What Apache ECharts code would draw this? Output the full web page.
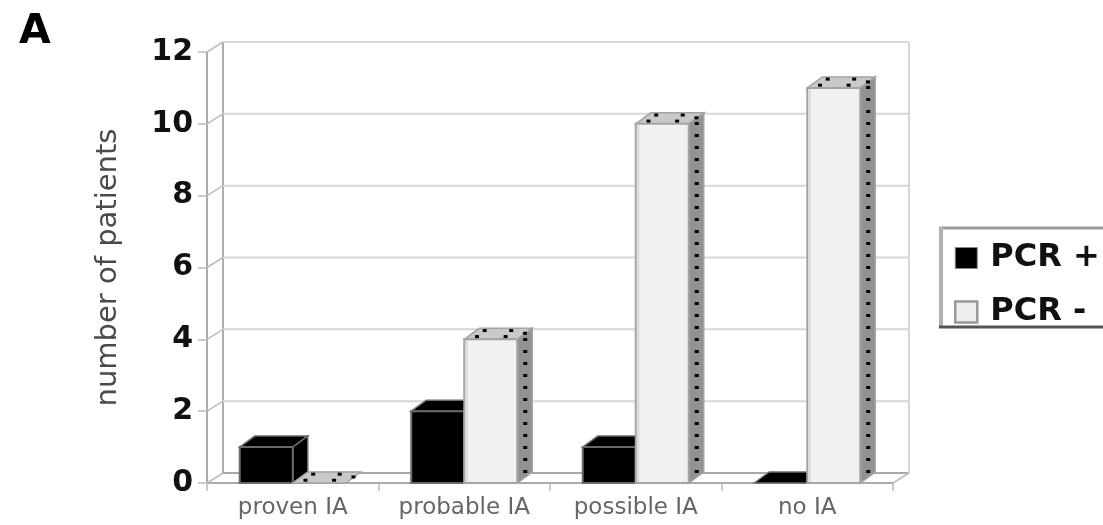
<!DOCTYPE html>
<html>
<head>
<meta charset="utf-8">
<script src="https://cdn.jsdelivr.net/npm/echarts@6/dist/echarts.min.js"></script>
<style>html,body{margin:0;padding:0;background:#fff;}#c{width:1103px;height:525px;}</style>
</head>
<body>
<div id="c"></div>
<script>
const categories = ['proven IA', 'probable IA', 'possible IA', 'no IA'];
const pcrPositive = [1, 2, 1, 0];
const pcrNegative = [0, 4, 10, 11];
const yTicks = [0, 2, 4, 6, 8, 10, 12];
const seriesNames = ['PCR +', 'PCR -'];
const panelLabel = 'A';
const yTitle = 'number of patients';

const DX = 16, DY = -10;      // wall depth
const BDX = 15, BDY = -11;    // bar depth
const BAR_FRAC = 53 / 171.5;  // bar width as fraction of category band

function frameItem(params, api) {
  const cs = params.coordSys;
  const v = api.value(1);
  const y = api.coord([0, v])[1];
  const x0 = cs.x, x1 = cs.x + cs.width;
  const ch = [];
  ch.push({type: 'line', shape: {x1: x0 + DX, y1: y + DY, x2: x1 + DX, y2: y + DY},
    style: {stroke: v === 0 ? '#a9a9a9' : '#d6d6d6', lineWidth: 2}});
  ch.push({type: 'line', shape: {x1: x0, y1: y, x2: x0 + DX, y2: y + DY},
    style: {stroke: '#bcbcbc', lineWidth: 1.5}});
  if (params.dataIndex === 0) {
    const yTop = cs.y;
    ch.push({type: 'line', shape: {x1: x0 + DX, y1: yTop + DY, x2: x0 + DX, y2: y + DY},
      style: {stroke: '#acacac', lineWidth: 2}});
    ch.push({type: 'line', shape: {x1: x1 + DX, y1: yTop + DY, x2: x1 + DX, y2: y + DY},
      style: {stroke: '#d6d6d6', lineWidth: 2}});
    ch.push({type: 'line', shape: {x1: x1, y1: y, x2: x1 + DX, y2: y + DY},
      style: {stroke: '#bcbcbc', lineWidth: 1.5}});
  }
  return {type: 'group', children: ch};
}

function makeBar(side) {
  return function (params, api) {
    const i = api.value(0), v = api.value(1);
    const base = api.coord([i, 0]);
    const top = api.coord([i, v]);
    const band = api.size([1, 0])[0];
    const w = band * BAR_FRAC;
    const xa = side === 0 ? base[0] - w : base[0];
    const xb = xa + w;
    const yb = base[1], yt = top[1];
    const dark = side === 0;
    const frontFill = dark ? '#000' : '#f1f1f1';
    const topFill = dark ? '#000' : '#c9c9c9';
    const sideFill = dark ? '#000' : '#929292';
    const edge = dark ? '#6a6a6a' : '#a4a4a4';
    const ch = [];
    ch.push({type: 'polygon', shape: {points: [[xa, yt], [xa + BDX, yt + BDY], [xb + BDX, yt + BDY], [xb, yt]]},
      style: {fill: topFill, stroke: edge, lineWidth: 1.5}});
    if (yb - yt > 0.5) {
      ch.push({type: 'polygon', shape: {points: [[xb, yt], [xb + BDX, yt + BDY], [xb + BDX, yb + BDY], [xb, yb]]},
        style: {fill: sideFill, stroke: edge, lineWidth: 1.5}});
      ch.push({type: 'rect', shape: {x: xa, y: yt, width: w, height: yb - yt},
        style: {fill: frontFill, stroke: edge, lineWidth: 2}});
      if (!dark) {
        ch.push({type: 'line', shape: {x1: xa + 2.5, y1: yt + 1, x2: xa + 2.5, y2: yb - 1},
          style: {stroke: '#d9d9d9', lineWidth: 2}});
        for (let yy = yb + BDY / 2 - 6; yy > yt + BDY / 2 + 3; yy -= 12) {
          ch.push({type: 'rect', shape: {x: xb + BDX / 2 - 1.5, y: yy - 1.5, width: 4, height: 3}, style: {fill: '#000'}});
        }
      }
    }
    if (!dark) {
      const dots = [[0.16, 0.25], [0.7, 0.25], [0.15, 0.8], [0.65, 0.8], [0.98, 0.55]];
      dots.forEach(function (d) {
        ch.push({type: 'rect', shape: {x: xa + d[0] * w + d[1] * BDX - 1.5, y: yt + d[1] * BDY - 1.5, width: 4, height: 3},
          style: {fill: '#000'}});
      });
    }
    return {type: 'group', children: ch};
  };
}

const chart = echarts.init(document.getElementById('c'));
chart.setOption({
  animation: false,
  backgroundColor: '#fff',
  title: {text: panelLabel, left: 14, top: 7,
    textStyle: {fontFamily: 'DejaVu Sans', fontWeight: 'bold', fontSize: 41, color: '#000'}},
  grid: {left: 207, right: 210, top: 52, bottom: 42, containLabel: false},
  xAxis: {
    type: 'category', data: categories, boundaryGap: true,
    axisLine: {show: true, lineStyle: {color: '#aaaaaa', width: 2}},
    axisTick: {show: true, length: 8, lineStyle: {color: '#bbbbbb', width: 1.5}},
    axisLabel: {margin: 14, fontFamily: 'DejaVu Sans', fontSize: 23, color: '#666666'},
    splitLine: {show: false}
  },
  yAxis: {
    type: 'value', min: 0, max: 12, interval: 2,
    name: yTitle, nameLocation: 'middle', nameRotate: 90, nameGap: 84,
    nameTextStyle: {fontFamily: 'DejaVu Sans', fontSize: 29, color: '#4a4a4a'},
    axisLine: {show: true, lineStyle: {color: '#aaaaaa', width: 2}},
    axisTick: {show: true, length: 9, lineStyle: {color: '#bbbbbb', width: 1.5}},
    axisLabel: {margin: 14, fontFamily: 'DejaVu Sans', fontWeight: 'bold', fontSize: 30, color: '#111',
      formatter: function (v) { return yTicks.indexOf(v) >= 0 ? String(v) : ''; }},
    splitLine: {show: false}
  },
  legend: {
    orient: 'vertical', left: 949, top: 236, itemWidth: 22, itemHeight: 21, itemGap: 20,
    selectedMode: false,
    data: [
      {name: seriesNames[0], icon: 'rect', itemStyle: {color: '#000', borderColor: '#888', borderWidth: 1}},
      {name: seriesNames[1], icon: 'rect', itemStyle: {color: '#eeeeee', borderColor: '#999', borderWidth: 2.5}}
    ],
    textStyle: {fontFamily: 'DejaVu Sans', fontWeight: 'bold', fontSize: 32, color: '#111', lineHeight: 34,
      padding: [0, 0, 0, 8]}
  },
  graphic: [
    {type: 'line', shape: {x1: 939, y1: 228, x2: 1103, y2: 228}, style: {stroke: '#9c9c9c', lineWidth: 3}},
    {type: 'line', shape: {x1: 941, y1: 227, x2: 941, y2: 328}, style: {stroke: '#b0b0b0', lineWidth: 4}},
    {type: 'line', shape: {x1: 939, y1: 327, x2: 1103, y2: 327}, style: {stroke: '#555555', lineWidth: 3}}
  ],
  series: [
    {type: 'custom', name: 'frame', z: 1, silent: true, renderItem: frameItem,
      data: yTicks.map(function (v) { return [0, v]; })},
    {type: 'custom', name: seriesNames[0], z: 3, renderItem: makeBar(0), itemStyle: {color: '#000'},
      data: pcrPositive.map(function (v, i) { return [i, v]; })},
    {type: 'custom', name: seriesNames[1], z: 4, renderItem: makeBar(1), itemStyle: {color: '#eeeeee'},
      data: pcrNegative.map(function (v, i) { return [i, v]; })}
  ]
});
</script>
</body>
</html>
